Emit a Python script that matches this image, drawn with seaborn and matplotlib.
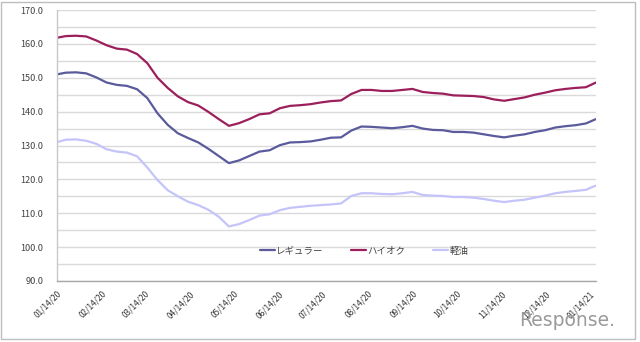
import matplotlib
matplotlib.use("Agg")
import matplotlib.pyplot as plt
import matplotlib.dates as mdates
from matplotlib.patches import Rectangle
from matplotlib.ticker import MultipleLocator, FormatStrFormatter
import seaborn as sns
import pandas as pd

# survey dates (weekly)
dates = [pd.Timestamp("2020-01-14")] + list(pd.date_range("2020-01-20", periods=53, freq="7D"))

regular = [151.0, 151.5, 151.6, 151.3, 150.1, 148.6, 147.9, 147.6, 146.6, 144.0,
           139.5, 136.1, 133.6, 132.2, 130.9, 129.0, 126.9, 124.8, 125.6, 126.9,
           128.2, 128.6, 130.1, 130.9, 131.0, 131.2, 131.7, 132.3, 132.4, 134.4,
           135.6, 135.5, 135.3, 135.1, 135.4, 135.8, 135.0, 134.6, 134.5, 134.0,
           134.0, 133.8, 133.3, 132.8, 132.4, 132.9, 133.3, 134.0, 134.5, 135.3,
           135.7, 136.0, 136.5, 137.8]
premium = [161.8, 162.3, 162.4, 162.2, 161.0, 159.6, 158.6, 158.3, 157.0, 154.3,
           150.0, 147.0, 144.5, 142.8, 141.8, 139.9, 137.8, 135.8, 136.6, 137.8,
           139.2, 139.5, 141.0, 141.7, 141.9, 142.2, 142.7, 143.1, 143.3, 145.2,
           146.4, 146.4, 146.1, 146.1, 146.4, 146.7, 145.8, 145.5, 145.3, 144.8,
           144.7, 144.6, 144.3, 143.6, 143.2, 143.7, 144.2, 145.0, 145.6, 146.3,
           146.7, 147.0, 147.2, 148.6]
diesel = [131.0, 131.7, 131.8, 131.4, 130.5, 128.9, 128.2, 127.9, 126.8, 123.5,
          119.8, 116.8, 115.0, 113.4, 112.4, 111.0, 109.0, 106.1, 106.8, 108.0,
          109.3, 109.7, 110.9, 111.6, 111.9, 112.2, 112.4, 112.6, 112.9, 115.1,
          115.9, 115.9, 115.7, 115.6, 115.9, 116.3, 115.4, 115.2, 115.1, 114.8,
          114.8, 114.6, 114.2, 113.7, 113.3, 113.7, 114.0, 114.6, 115.2, 115.9,
          116.3, 116.6, 116.9, 118.2]

series_names = ["レギュラー", "ハイオク", "軽油"]
colors = ["#5a5a9c", "#9c1f5c", "#c4c4fa"]

df = pd.concat([
    pd.DataFrame({"date": dates, "price": vals, "kind": name})
    for name, vals in zip(series_names, [regular, premium, diesel])
])

sns.set_style("white")
plt.rcParams["font.family"] = ["Noto Sans CJK JP", "DejaVu Sans"]

fig = plt.figure(figsize=(6.4, 3.42), dpi=100)
ax = fig.add_axes([57 / 640, 1 - 281 / 342, 539 / 640, 271 / 342])

sns.lineplot(data=df, x="date", y="price", hue="kind", hue_order=series_names,
             palette=colors, linewidth=1.6, ax=ax)

ax.set_xlim(dates[0], dates[-1])
ax.set_ylim(90, 170)
ax.yaxis.set_major_locator(MultipleLocator(10))
ax.yaxis.set_minor_locator(MultipleLocator(5))
ax.yaxis.set_major_formatter(FormatStrFormatter("%.1f"))
ax.grid(True, which="both", axis="y", color="#dadada", linewidth=1.0)
ax.grid(False, axis="x")
ax.set_axisbelow(True)

tick_dates = pd.date_range("2020-01-01", "2021-01-01", freq="MS") + pd.Timedelta(days=13)
ax.set_xticks(list(tick_dates))
ax.xaxis.set_major_formatter(mdates.DateFormatter("%m/%d/%y"))
for lbl in ax.get_xticklabels():
    lbl.set_rotation(45)
    lbl.set_ha("right")
    lbl.set_va("top")
    lbl.set_rotation_mode("anchor")

ax.tick_params(axis="x", length=0, pad=6, labelsize=6, labelcolor="#333333")
ax.tick_params(axis="y", which="both", length=0, pad=10, labelsize=6.6, labelcolor="#444444")
ax.set_xlabel("")
ax.set_ylabel("")

for s in ["top", "right"]:
    ax.spines[s].set_visible(False)
ax.spines["left"].set_color("#c8c8c8")
ax.spines["bottom"].set_color("#a8a8a8")
ax.spines["left"].set_linewidth(1.0)
ax.spines["bottom"].set_linewidth(1.0)

handles, labels = ax.get_legend_handles_labels()
leg = ax.legend(handles, labels, loc="center", bbox_to_anchor=(0.57, 0.11), ncol=3,
                frameon=False, fontsize=6.8, handlelength=1.6, handletextpad=0.15,
                columnspacing=2.9, labelcolor="#444444")
for h in leg.get_lines():
    h.set_linewidth(1.6)

fig.patches.append(Rectangle((1 / 640, 3 / 342), 634 / 640, 337 / 342,
                             transform=fig.transFigure, fill=False,
                             edgecolor="#bdbdbd", linewidth=1.0))
fig.text(519 / 640, 1 - 320 / 342, "Response.", fontsize=13.5, color="#9a9a9a",
         va="center", ha="left", family="DejaVu Sans", zorder=0)

fig.savefig("out.png", dpi=100)
